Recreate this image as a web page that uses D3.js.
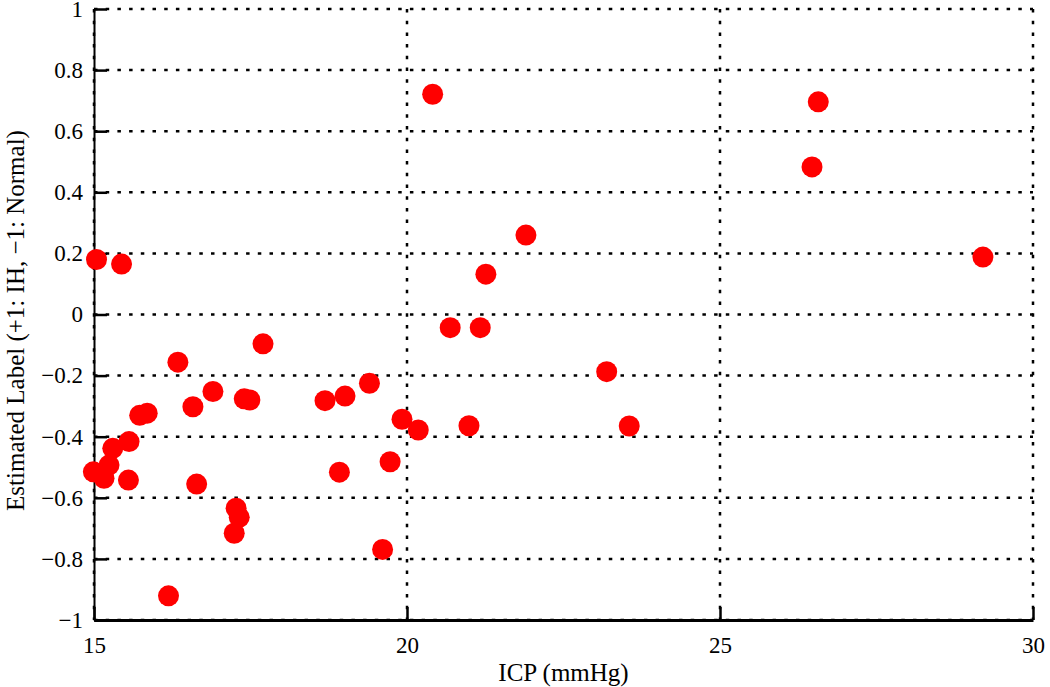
<!DOCTYPE html>
<html>
<head>
<meta charset="utf-8">
<script src="https://cdn.jsdelivr.net/npm/d3@7"></script>
<style>
  body { margin: 0; background: #fff; }
  svg { display: block; font-family: "Liberation Serif", "DejaVu Serif", serif; }
</style>
</head>
<body>
<div id="chart"></div>
<script>
// ICP values (mmHg) and estimated labels
const icp = [
    15.04, 15.44, 16.34, 17.70, 16.90, 16.58, 17.40, 17.49, 15.73, 15.85,
    15.56, 15.30, 15.24, 14.99, 15.16, 15.55, 16.64, 17.27, 17.32, 17.24,
    16.19, 18.69, 19.01, 19.40, 18.92, 19.73, 19.61, 19.92, 20.18, 20.99,
    20.69, 21.17, 21.26, 21.90, 20.41, 23.19, 23.55, 26.57, 26.47, 29.20
];
const estLabel = [
    0.180, 0.165, -0.156, -0.096, -0.252, -0.302, -0.276, -0.280, -0.330, -0.323,
    -0.416, -0.438, -0.493, -0.515, -0.536, -0.542, -0.555, -0.634, -0.664, -0.716,
    -0.921, -0.282, -0.267, -0.225, -0.516, -0.482, -0.769, -0.343, -0.378, -0.364,
    -0.043, -0.043, 0.132, 0.260, 0.721, -0.187, -0.365, 0.696, 0.483, 0.188
];
const xTicks = [15, 20, 25, 30];
const yTicks = [1, 0.8, 0.6, 0.4, 0.2, 0, -0.2, -0.4, -0.6, -0.8, -1];

const width = 1050, height = 687;
const margin = { top: 9, right: 17, bottom: 67, left: 94 };
const w = width - margin.left - margin.right;
const h = height - margin.top - margin.bottom;

const svg = d3.select('#chart').append('svg')
    .attr('width', width)
    .attr('height', height);

const g = svg.append('g')
    .attr('transform', `translate(${margin.left},${margin.top})`);

const x = d3.scaleLinear().domain([15, 30]).range([0, w]);
const y = d3.scaleLinear().domain([-1, 1]).range([h, 0]);

const fmt = v => (v < 0 ? '\u2212' : '') + d3.format('')(Math.abs(v));

// dotted grid
const grid = g.append('g').attr('class', 'grid');
grid.selectAll('line.h')
    .data(yTicks)
    .enter().append('line')
    .attr('class', 'h')
    .attr('x1', 0).attr('x2', w)
    .attr('y1', d => y(d)).attr('y2', d => y(d))
    .attr('stroke', '#000')
    .attr('stroke-width', 2.5)
    .attr('stroke-dasharray', '3.5,8.2');
grid.selectAll('line.v')
    .data(xTicks)
    .enter().append('line')
    .attr('class', 'v')
    .attr('x1', d => x(d)).attr('x2', d => x(d))
    .attr('y1', 0).attr('y2', h)
    .attr('stroke', '#000')
    .attr('stroke-width', 2.5)
    .attr('stroke-dasharray', '3.5,8.2');

// axes, ticks pointing inward (no top/right box)
const xAxis = g.append('g')
    .attr('transform', `translate(0,${h})`)
    .call(d3.axisBottom(x).tickValues(xTicks).tickSizeInner(-13).tickSizeOuter(0).tickPadding(19).tickFormat(fmt));
const yAxis = g.append('g')
    .call(d3.axisLeft(y).tickValues(yTicks).tickSizeInner(-13).tickSizeOuter(0).tickPadding(11).tickFormat(fmt));

xAxis.attr('font-family', '"Liberation Serif", serif').attr('font-size', 23);
yAxis.attr('font-family', '"Liberation Serif", serif').attr('font-size', 23);
xAxis.select('.domain').attr('stroke-width', 3);
yAxis.select('.domain').attr('stroke-width', 2);
g.selectAll('.tick line').attr('stroke-width', 2.5);
g.selectAll('.tick text').attr('fill', '#000');
xAxis.selectAll('.tick text').attr('dy', '0.6em');

// points
g.selectAll('circle')
    .data(icp.map((v, i) => [v, estLabel[i]]))
    .enter().append('circle')
    .attr('cx', d => x(d[0]))
    .attr('cy', d => y(d[1]))
    .attr('r', 10.5)
    .attr('fill', '#ff0000');

// axis labels
svg.append('text')
    .attr('x', margin.left + w / 2)
    .attr('y', 681)
    .attr('text-anchor', 'middle')
    .style('font-size', '25px')
    .text('ICP (mmHg)');

svg.append('text')
    .attr('transform', `translate(24,${margin.top + h / 2 + 6}) rotate(-90)`)
    .attr('text-anchor', 'middle')
    .style('font-size', '25px')
    .text('Estimated Label (+1: IH, \u22121: Normal)');
</script>
</body>
</html>
